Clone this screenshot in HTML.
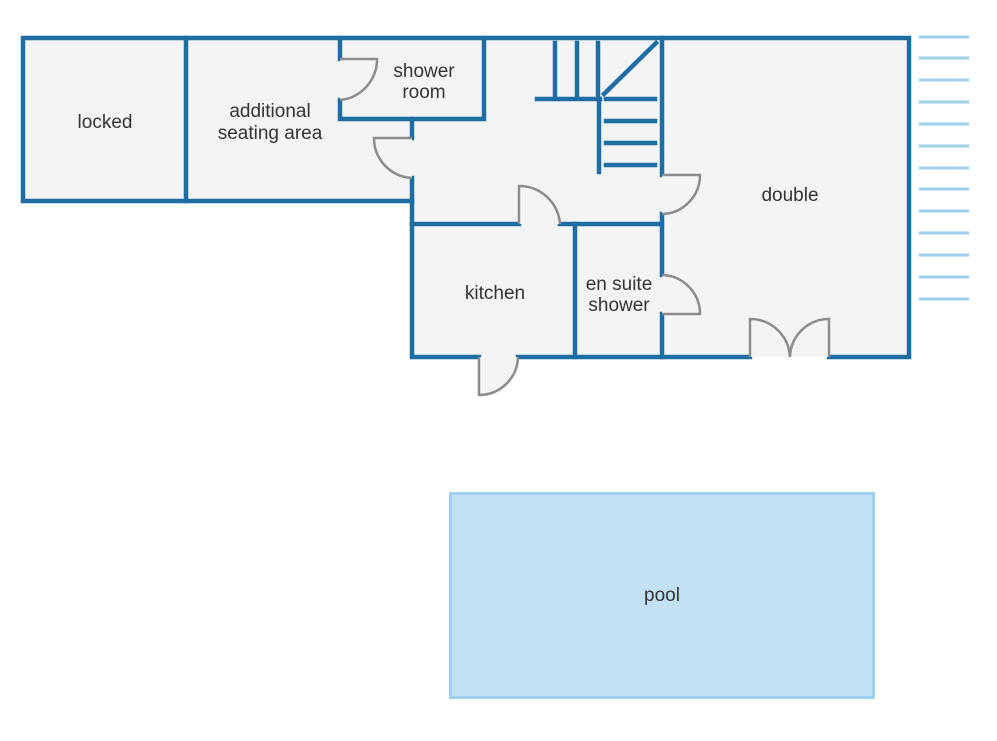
<!DOCTYPE html>
<html><head><meta charset="utf-8"><style>html,body{margin:0;padding:0;background:#fff}svg{display:block}</style></head><body>
<svg width="997" height="741" viewBox="0 0 997 741" xmlns="http://www.w3.org/2000/svg" font-family="Liberation Sans, sans-serif">
<g fill="#f4f4f4" stroke="none">
<rect x="23" y="38" width="886" height="163"/>
<rect x="412" y="38" width="497" height="319"/>
</g>
<g stroke="#9fcfe9" stroke-width="3">
<line x1="919" y1="37" x2="969" y2="37"/><line x1="919" y1="58" x2="969" y2="58"/><line x1="919" y1="80" x2="969" y2="80"/><line x1="919" y1="102" x2="969" y2="102"/><line x1="919" y1="124" x2="969" y2="124"/><line x1="919" y1="146" x2="969" y2="146"/><line x1="919" y1="168" x2="969" y2="168"/><line x1="919" y1="189" x2="969" y2="189"/><line x1="919" y1="211" x2="969" y2="211"/><line x1="919" y1="233" x2="969" y2="233"/><line x1="919" y1="255" x2="969" y2="255"/><line x1="919" y1="277" x2="969" y2="277"/><line x1="919" y1="299" x2="969" y2="299"/>
</g>
<g stroke="#1f6ea3" stroke-width="4.5" fill="none" stroke-linecap="square">
<polyline points="412,201 23,201 23,38 909,38 909,357 829,357"/>
<line x1="750" y1="357" x2="518" y2="357"/>
<polyline points="479,357 412,357 412,178"/>
<line x1="412" y1="138" x2="412" y2="119"/>
<line x1="186" y1="38" x2="186" y2="201"/>
<line x1="340" y1="38" x2="340" y2="59"/>
<polyline points="340,100 340,119 484,119 484,38"/>
<line x1="412" y1="224" x2="519" y2="224"/>
<line x1="560" y1="224" x2="662" y2="224"/>
<line x1="575" y1="224" x2="575" y2="357"/>
<line x1="662" y1="38" x2="662" y2="175"/>
<line x1="662" y1="214" x2="662" y2="275"/>
<line x1="662" y1="314" x2="662" y2="357"/>
<line x1="555" y1="43" x2="555" y2="95"/>
<line x1="577" y1="43" x2="577" y2="95"/>
<line x1="598" y1="43" x2="598" y2="95"/>
<line x1="537" y1="99" x2="600" y2="99"/>
<line x1="599" y1="99" x2="599" y2="172"/>
<line x1="606" y1="99" x2="655" y2="99"/>
<line x1="606" y1="121" x2="655" y2="121"/>
<line x1="606" y1="143" x2="655" y2="143"/>
<line x1="606" y1="165" x2="655" y2="165"/>
<line x1="604" y1="94" x2="656" y2="43"/>
</g>
<g stroke="#8c8c8c" stroke-width="2.5" fill="#f4f4f4">
<path d="M340,59 L377,59 A41,41 0 0 1 340,100"/>
<path d="M412,138 L374,138 A40,40 0 0 0 412,178"/>
<path d="M519,224 L519,186 A41,41 0 0 1 560,224"/>
<path d="M662,175 L700,175 A39,39 0 0 1 662,214"/>
<path d="M662,275 A39,39 0 0 1 700,314 L662,314"/>
<path d="M479,357 L479,395 A39,39 0 0 0 518,357"/>
<path d="M750,357 L750,319 A40,40 0 0 1 790,357"/>
<path d="M829,357 L829,319 A39,39 0 0 0 790,357"/>
</g>
<rect x="450.5" y="493.5" width="423" height="204" fill="#c3e1f5" stroke="#9fd0ee" stroke-width="3"/>
<g fill="#333" font-size="19" text-anchor="middle">
<text x="105" y="128">locked</text>
<text x="270" y="117">additional</text>
<text x="270" y="139">seating area</text>
<text x="424" y="77">shower</text>
<text x="424" y="98">room</text>
<text x="495" y="299">kitchen</text>
<text x="619" y="290">en suite</text>
<text x="619" y="311">shower</text>
<text x="790" y="201">double</text>
<text x="662" y="601">pool</text>
</g>
</svg>
</body></html>
